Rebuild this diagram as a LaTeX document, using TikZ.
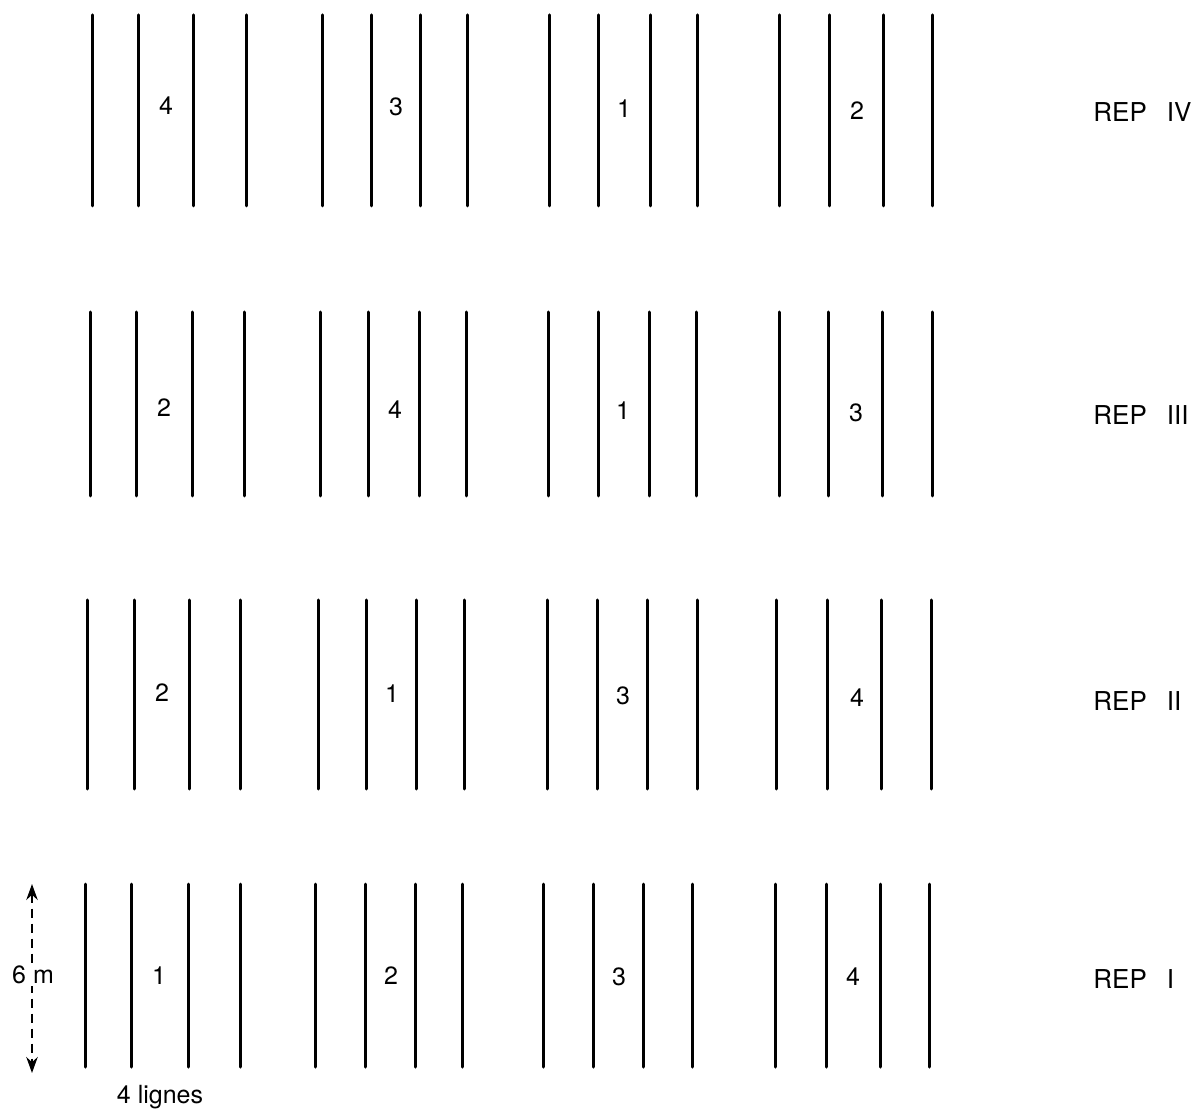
\documentclass[tikz,border=0pt]{standalone}
\usepackage{fontspec}
\setmainfont{TeX Gyre Heros}
\usetikzlibrary{arrows.meta}
\tikzset{
 rowline/.style={line width=1.5pt,line cap=round},
 plotno/.style={inner sep=1pt,font=\fontsize{12.5}{15}\selectfont},
 replabel/.style={anchor=west,inner sep=0,font=\fontsize{13}{16}\selectfont},
 span/.style={line width=1.2pt,dash pattern=on 4.5pt off 3pt,{Stealth[length=2.8mm,width=2mm]}-{Stealth[length=2.8mm,width=2mm]}},
 spanlabel/.style={fill=white,inner sep=1pt,font=\fontsize{12.5}{15}\selectfont}
}
\newcommand{\repgap}{\hspace{10pt}}
\begin{document}
\begin{tikzpicture}[x=0.5pt,y=-0.5pt]
\path[use as bounding box] (0,0) rectangle (1198,1111);
% REP IV
\foreach \x in {92,138,193,246,322,371,420,467,549,598,650,697,779,829,883,932}
 \draw[rowline] (\x,15) -- (\x,206);
\node[plotno] (iv4) at (166,106) {4};
\node[plotno] (iv3) at (396,107) {3};
\node[plotno] (iv1) at (624,109) {1};
\node[plotno] (iv2) at (857,111) {2};
\node[replabel] (repiv) at (1093,112) {REP\repgap IV};
% REP III
\foreach \x in {90,136,192,244,320,368,419,466,548,598,649,696,779,828,882,932}
 \draw[rowline] (\x,312) -- (\x,496);
\node[plotno] (iii2) at (164,408) {2};
\node[plotno] (iii4) at (395,410) {4};
\node[plotno] (iii1) at (623,411) {1};
\node[plotno] (iii3) at (856,413) {3};
\node[replabel] (repiii) at (1093,415) {REP\repgap III};
% REP II
\foreach \x in {87,134,189,240,318,366,416,464,547,597,647,697,776,827,881,931}
 \draw[rowline] (\x,600) -- (\x,789);
\node[plotno] (ii2) at (162,693) {2};
\node[plotno] (ii1) at (392,694) {1};
\node[plotno] (ii3) at (623,696) {3};
\node[plotno] (ii4) at (857,698) {4};
\node[replabel] (repii) at (1093,701) {REP\repgap II};
% REP I
\foreach \x in {85,131,188,240,315,365,415,462,543,593,643,692,775,826,880,929}
 \draw[rowline] (\x,884) -- (\x,1067);
\node[plotno] (i1) at (159,976) {1};
\node[plotno] (i2) at (391,976) {2};
\node[plotno] (i3) at (619,977) {3};
\node[plotno] (i4) at (853,977) {4};
\node[replabel] (repi) at (1093,979) {REP\repgap I};
% 6 m span and 4 lignes
\coordinate (spantop) at (32,884);
\coordinate (spanbot) at (32,1073);
\draw[span] (spantop) -- (spanbot);
\node[spanlabel] (sixm) at (33,975) {6 m};
\node[plotno] (lignes) at (160,1097) {4 lignes};
\end{tikzpicture}
\end{document}
